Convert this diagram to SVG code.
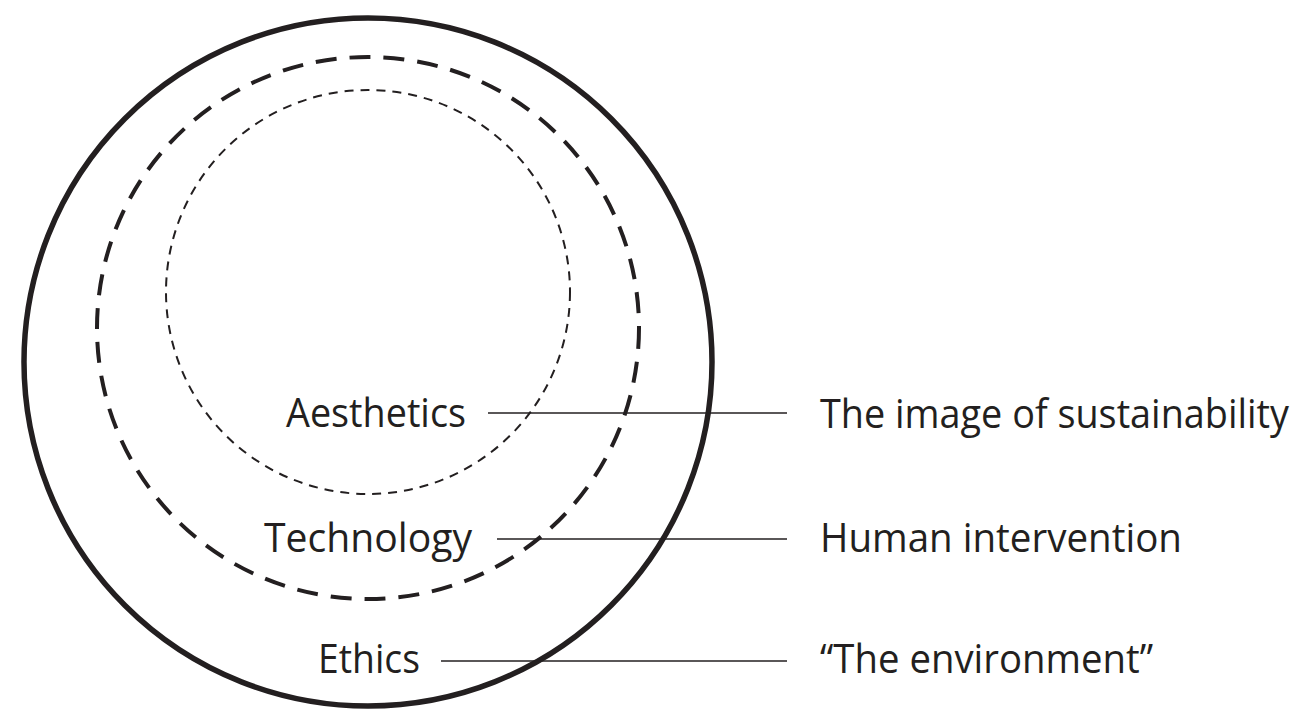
<svg xmlns="http://www.w3.org/2000/svg" width="1308" height="711" viewBox="0 0 1308 711">
<style>
.c{fill:none;stroke:#231f20}
.outer{stroke-width:5.5}
.mid{stroke-width:4;stroke-dasharray:21 13}
.inner{stroke-width:2;stroke-dasharray:9 7}
.ln{stroke:#231f20;stroke-width:1.5}
text{font-family:"Open Sans","Noto Sans",sans-serif;font-size:41px;fill:#231f20}
</style>
<rect width="1308" height="711" fill="#fff"/>
<g id="ethics-circle"><circle class="c outer" cx="368" cy="362" r="344"/></g>
<g id="technology-circle"><circle class="c mid" cx="368" cy="328" r="271"/></g>
<g id="aesthetics-circle"><circle class="c inner" cx="368" cy="292" r="202"/></g>
<g id="connectors">
<line class="ln" x1="488" y1="413" x2="787" y2="413"/>
<line class="ln" x1="497" y1="539" x2="787" y2="539"/>
<line class="ln" x1="441" y1="661" x2="787" y2="661"/>
</g>
<g id="aesthetics"><text x="286" y="427" textLength="180" lengthAdjust="spacingAndGlyphs">Aesthetics</text></g>
<g id="technology"><text x="264" y="552" textLength="208" lengthAdjust="spacingAndGlyphs">Technology</text></g>
<g id="ethics"><text x="318" y="673" textLength="102" lengthAdjust="spacingAndGlyphs">Ethics</text></g>
<g id="image"><text x="820" y="428" textLength="469" lengthAdjust="spacingAndGlyphs">The image of sustainability</text></g>
<g id="human"><text x="820" y="552" textLength="362" lengthAdjust="spacingAndGlyphs">Human intervention</text></g>
<g id="environment"><text x="820" y="673" textLength="333" lengthAdjust="spacingAndGlyphs">“The environment”</text></g>
</svg>
